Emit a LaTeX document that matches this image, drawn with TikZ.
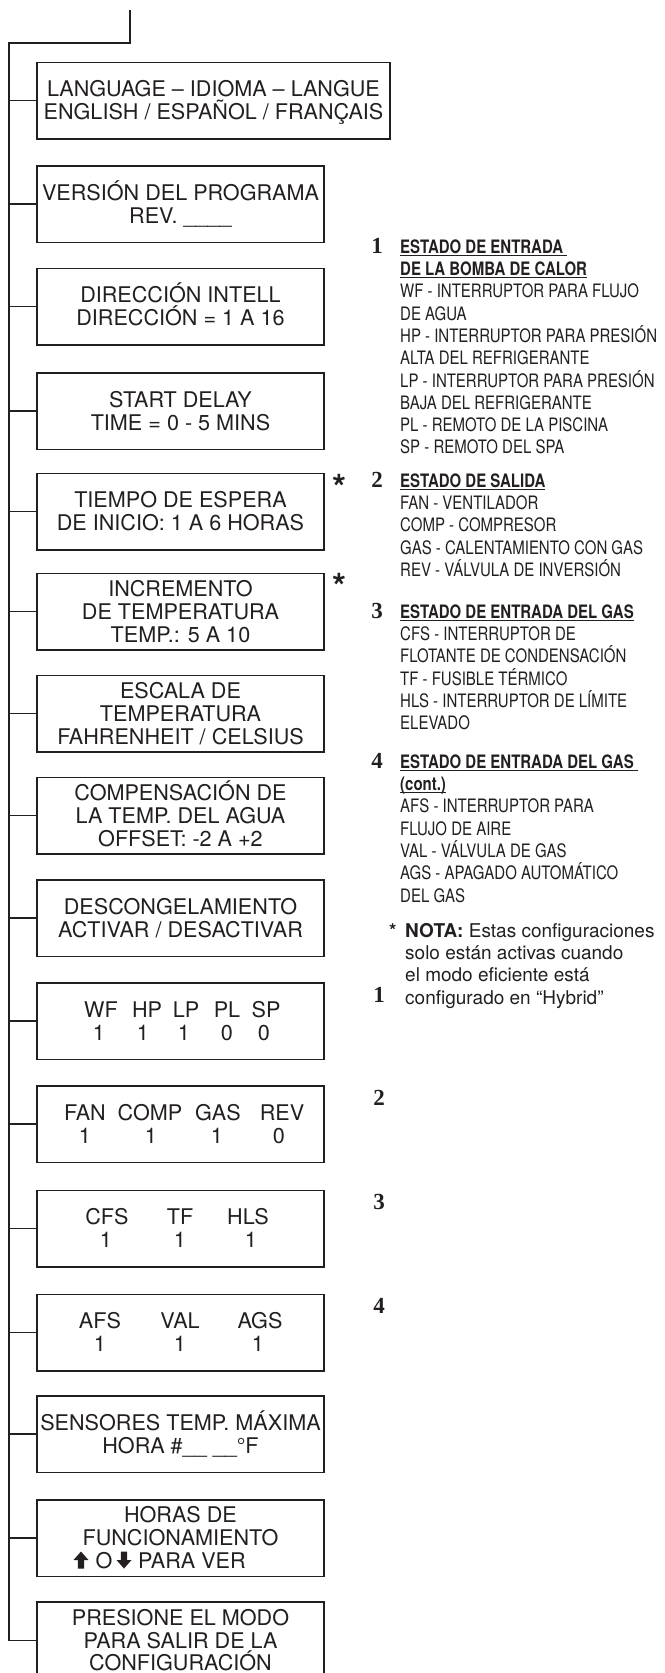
\documentclass[tikz,border=0pt]{standalone}
\usepackage{fontspec}
\setmainfont{TeX Gyre Heros}
\newfontfamily\condfont[FakeStretch=0.81]{TeX Gyre Heros}
\newfontfamily\numfont{Liberation Serif}
\definecolor{ink}{RGB}{35,31,32}
\newcommand\capl[1]{\rule{0pt}{15.5pt}\smash{#1}}
\newcommand\lgl[1]{\rule{0pt}{13.3pt}\smash{#1}}
\newcommand\hd[1]{\setbox0=\hbox{\bfseries #1}\rlap{\rule[-2.6pt]{\wd0}{1.1pt}}\box0}
\newcommand\boxfont{\fontsize{21.6}{22.8}\selectfont}
\tikzset{
  bx/.style={draw=ink, line width=1.5pt, minimum width=287pt, minimum height=76.5pt,
    inner sep=0pt, align=center, font=\boxfont, text=ink},
  wire/.style={draw=ink, line width=1.5pt},
  col/.style={anchor=base, inner sep=0pt, font=\boxfont, text=ink},
  lg/.style={anchor=north west, inner sep=0pt, align=left, text=ink,
    font=\condfont\fontsize{18.5}{22.3}\selectfont},
  nt/.style={anchor=north west, inner sep=0pt, align=left, text=ink,
    font=\fontsize{19}{22.3}\selectfont},
  num/.style={anchor=base, inner sep=0pt, text=ink,
    font=\numfont\bfseries\fontsize{23}{23}\selectfont},
  ast/.style={anchor=base, inner sep=0pt, text=ink,
    font=\bfseries\fontsize{36}{36}\selectfont},
  arr/.style={fill=ink, draw=none}
}
\begin{document}
\begin{tikzpicture}[x=1pt,y=-1pt]
\useasboundingbox (0,0) rectangle (664,1673);
% boxes
\node[bx, minimum width=353pt] (b1) at (213.5,100.5) {\capl{LANGUAGE – IDIOMA – LANGUE}\\\capl{ENGLISH / ESPAÑOL / FRANÇAIS}};
\node[bx] (b2) at (180.5,204) {\capl{VERSIÓN DEL PROGRAMA}\\\capl{REV. \_\_\_\_}};
\node[bx] (b3) at (180.5,306.5) {\capl{DIRECCIÓN INTELL}\\\capl{DIRECCIÓN = 1 A 16}};
\node[bx] (b4) at (180.5,411) {\capl{START DELAY}\\\capl{TIME = 0 - 5 MINS}};
\node[bx] (b5) at (180.5,511.5) {\capl{TIEMPO DE ESPERA}\\\capl{DE INICIO: 1 A 6 HORAS}};
\node[bx] (b6) at (180.5,611.5) {\capl{INCREMENTO}\\\capl{DE TEMPERATURA}\\\capl{TEMP.: 5 A 10}};
\node[bx] (b7) at (180.5,713.5) {\capl{ESCALA DE}\\\capl{TEMPERATURA}\\\capl{FAHRENHEIT / CELSIUS}};
\node[bx] (b8) at (180.5,815.5) {\capl{COMPENSACIÓN DE}\\\capl{LA TEMP. DEL AGUA}\\\capl{OFFSET: -2 A +2}};
\node[bx] (b9) at (180.5,918) {\capl{DESCONGELAMIENTO}\\\capl{ACTIVAR / DESACTIVAR}};
\node[bx] (b10) at (180.5,1021) {};
\node[bx] (b11) at (180.5,1124) {};
\node[bx] (b12) at (180.5,1228.5) {};
\node[bx] (b13) at (180.5,1332.5) {};
\node[bx] (b14) at (180.5,1434) {\capl{SENSORES TEMP. MÁXIMA}\\\capl{HORA \#\_\_ \_\_°F}};
\node[bx] (b15) at (180.5,1538) {\capl{HORAS DE}\\\capl{FUNCIONAMIENTO}\\\capl{}};
\node[bx] (b16) at (180.5,1640.25) {\capl{PRESIONE EL MODO}\\\capl{PARA SALIR DE LA}\\\capl{CONFIGURACIÓN}};
% status rows
\node[col] (wf) at (101,1017.35) {WF};
\node[col] (hp) at (147,1017.35) {HP};
\node[col] (lp) at (186,1017.35) {LP};
\node[col] (pl) at (227,1017.35) {PL};
\node[col] (sp) at (266,1017.35) {SP};
\node[col] (wf1) at (99,1040.15) {1};
\node[col] (hp1) at (143,1040.15) {1};
\node[col] (lp1) at (184,1040.15) {1};
\node[col] (pl1) at (227,1040.15) {0};
\node[col] (sp1) at (264,1040.15) {0};
\node[col] (fan) at (85,1120.35) {FAN};
\node[col] (comp) at (150,1120.35) {COMP};
\node[col] (gas) at (218,1120.35) {GAS};
\node[col] (rev) at (282,1120.35) {REV};
\node[col] (fan1) at (85,1143.15) {1};
\node[col] (comp1) at (151,1143.15) {1};
\node[col] (gas1) at (217,1143.15) {1};
\node[col] (rev1) at (279,1143.15) {0};
\node[col] (cfs) at (107,1224.85) {CFS};
\node[col] (tf) at (180,1224.85) {TF};
\node[col] (hls) at (248,1224.85) {HLS};
\node[col] (cfs1) at (106,1247.65) {1};
\node[col] (tf1) at (180,1247.65) {1};
\node[col] (hls1) at (251,1247.65) {1};
\node[col] (afs) at (100,1328.85) {AFS};
\node[col] (val) at (180,1328.85) {VAL};
\node[col] (ags) at (260,1328.85) {AGS};
\node[col] (afs1) at (100,1351.65) {1};
\node[col] (val1) at (180,1351.65) {1};
\node[col] (ags1) at (258,1351.65) {1};
% line 3 of box 15
\fill[arr] (81,1551.5) -- (88.5,1560) -- (84.2,1560) -- (84.2,1568.55) -- (77.8,1568.55) -- (77.8,1560) -- (73.5,1560) -- cycle;
\node[col, anchor=base west] (ho) at (95.5,1568.55) {O};
\fill[arr] (124,1568.55) -- (131.5,1560) -- (127.2,1560) -- (127.2,1551.5) -- (120.8,1551.5) -- (120.8,1560) -- (116.5,1560) -- cycle;
\node[col, anchor=base west] (hver) at (138,1568.55) {PARA VER};
% connectors
\coordinate (top) at (130,10);
\coordinate (tr) at (130,43);
\coordinate (tl) at (9,43);
\draw[wire] (top) -- (tr) -- (tl) -- (tl |- b16.west) -- (b16.west);
\foreach \b in {b1,b2,b3,b4,b5,b6,b7,b8,b9,b10,b11,b12,b13,b14,b15}
  \draw[wire] (tl |- \b.west) -- (\b.west);
% asterisks and numbers beside boxes
\node[ast] (a5) at (339,500) {*};
\node[ast] (a6) at (339,599) {*};
\node[num] (m1) at (379,1002) {1};
\node[num] (m2) at (379,1105) {2};
\node[num] (m3) at (379,1209) {3};
\node[num] (m4) at (379,1313) {4};
% legend
\node[num] (n1) at (377,253) {1};
\node[lg] (s1) at (400,239.7) {\lgl{\hd{ESTADO DE ENTRADA\ }}\\\lgl{\hd{DE LA BOMBA DE CALOR}}\\\lgl{WF - INTERRUPTOR PARA FLUJO}\\\lgl{DE AGUA}\\\lgl{HP - INTERRUPTOR PARA PRESIÓN}\\\lgl{ALTA DEL REFRIGERANTE}\\\lgl{LP - INTERRUPTOR PARA PRESIÓN}\\\lgl{BAJA DEL REFRIGERANTE}\\\lgl{PL - REMOTO DE LA PISCINA}\\\lgl{SP - REMOTO DEL SPA}};
\node[num] (n2) at (377,487) {2};
\node[lg] (s2) at (400,473.7) {\lgl{\hd{ESTADO DE SALIDA}}\\\lgl{FAN - VENTILADOR}\\\lgl{COMP - COMPRESOR}\\\lgl{GAS - CALENTAMIENTO CON GAS}\\\lgl{REV - VÁLVULA DE INVERSIÓN}};
\node[num] (n3) at (377,618) {3};
\node[lg] (s3) at (400,604.7) {\lgl{\hd{ESTADO DE ENTRADA DEL GAS}}\\\lgl{CFS - INTERRUPTOR DE}\\\lgl{FLOTANTE DE CONDENSACIÓN}\\\lgl{TF - FUSIBLE TÉRMICO}\\\lgl{HLS - INTERRUPTOR DE LÍMITE}\\\lgl{ELEVADO}};
\node[num] (n4) at (377,768) {4};
\node[lg] (s4) at (400,754.7) {\lgl{\hd{ESTADO DE ENTRADA DEL GAS\ }}\\\lgl{\hd{(cont.)}}\\\lgl{AFS - INTERRUPTOR PARA}\\\lgl{FLUJO DE AIRE}\\\lgl{VAL - VÁLVULA DE GAS}\\\lgl{AGS - APAGADO AUTOMÁTICO}\\\lgl{DEL GAS}};
\node[anchor=base west, inner sep=0pt, text=ink, font=\bfseries\fontsize{19}{22}\selectfont] (nst) at (389,937) {*};
\node[nt] (note) at (405,923.7) {\lgl{\textbf{NOTA:} Estas configuraciones}\\\lgl{solo están activas cuando}\\\lgl{el modo eficiente está}\\\lgl{configurado en “Hybrid”}};
\end{tikzpicture}
\end{document}
